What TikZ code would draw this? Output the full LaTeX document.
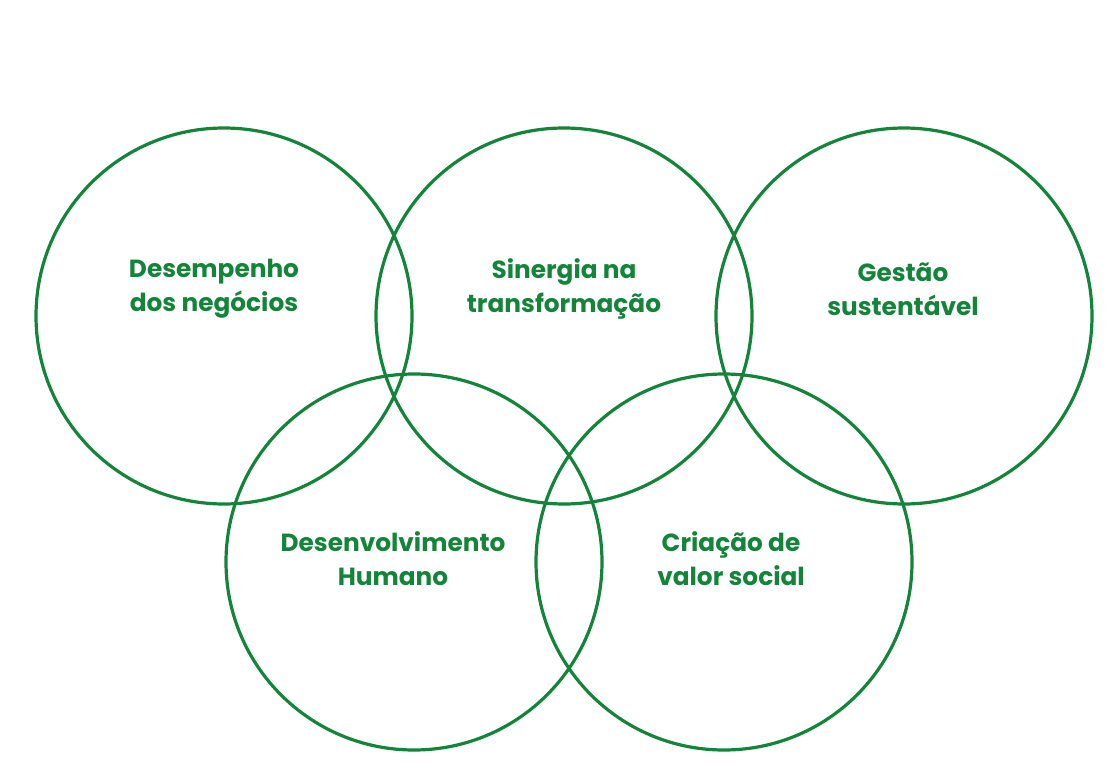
\documentclass[tikz,border=0pt]{standalone}
\usepackage{fontspec}
\setmainfont{Poppins}
\definecolor{grn}{HTML}{13843A}
\begin{document}
\begin{tikzpicture}[x=0.75pt,y=-0.75pt,
  ring/.style={draw=grn,line width=2.4pt},
  lbl/.style={text=grn,font=\bfseries\fontsize{18.6}{25.5}\selectfont,align=center}]
\useasboundingbox (0,0) rectangle (1119,780);
\draw[ring] (224,316) circle (188);
\draw[ring] (564,316) circle (188);
\draw[ring] (904,316) circle (188);
\draw[ring] (414,562) circle (188);
\draw[ring] (724,562) circle (188);
\node[lbl] (a) at (214,289) {Desempenho\\ dos negócios};
\node[lbl] (b) at (564,289) {Sinergia na\\transformação};
\node[lbl] (c) at (903,289) {Gestão\\sustentável};
\node[lbl] (d) at (393,559) {Desenvolvimento\\Humano};
\node[lbl] (e) at (731,559) {Criação de\\valor social};
\end{tikzpicture}
\end{document}
